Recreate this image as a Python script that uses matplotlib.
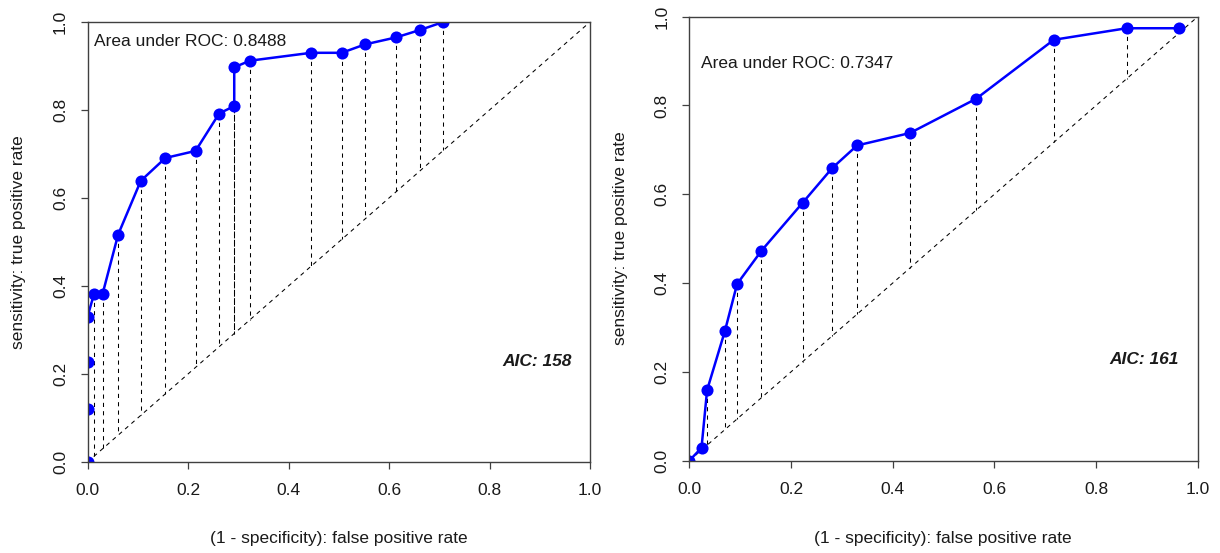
import matplotlib
matplotlib.use("Agg")
import matplotlib.pyplot as plt
from matplotlib.ticker import FormatStrFormatter

plt.rcParams['font.family'] = ['Liberation Sans', 'DejaVu Sans']

# Left panel data
fpr1 = [0, 0, 0, 0, 0.013, 0.030, 0.061, 0.106, 0.155, 0.215, 0.262, 0.292, 0.292,
        0.323, 0.445, 0.506, 0.552, 0.614, 0.662, 0.708]
tpr1 = [0, 0.121, 0.227, 0.330, 0.382, 0.382, 0.517, 0.639, 0.691, 0.707, 0.792, 0.809,
        0.897, 0.912, 0.930, 0.930, 0.949, 0.965, 0.982, 1.0]
auc1 = "Area under ROC: 0.8488"
aic1 = "AIC: 158"

# Right panel data
fpr2 = [0, 0.024, 0.035, 0.070, 0.094, 0.142, 0.223, 0.281, 0.330, 0.434, 0.564,
        0.717, 0.860, 0.964]
tpr2 = [0, 0.029, 0.159, 0.292, 0.398, 0.473, 0.581, 0.659, 0.710, 0.738, 0.815,
        0.948, 0.974, 0.974]
auc2 = "Area under ROC: 0.7347"
aic2 = "AIC: 161"

ticks = [0.0, 0.2, 0.4, 0.6, 0.8, 1.0]
xlabel = "(1 - specificity): false positive rate"
ylabel = "sensitivity: true positive rate"

W, H = 1220, 553
fig = plt.figure(figsize=(W / 100, H / 100), dpi=100)

FS = 12.5
EDGE = '#404040'
TXT = '#1a1a1a'


def make_panel(box, fpr, tpr, auc_txt, auc_pos, aic_txt, aic_pos, xlab_pos, ylab_pos):
    x0, y0, x1, y1 = box  # pixel coords (top-left origin)
    ax = fig.add_axes([x0 / W, 1 - y1 / H, (x1 - x0) / W, (y1 - y0) / H])
    ax.set_xlim(0, 1)
    ax.set_ylim(0, 1)
    ax.plot([0, 1], [0, 1], color='black', lw=0.75, ls=(0, (4, 4)), zorder=2)
    for x, y in zip(fpr, tpr):
        if x > 0:
            ax.plot([x, x], [y, x], color='black', lw=0.75, ls=(0, (4, 4)), zorder=2)
    ax.plot(fpr, tpr, color='#0000ff', lw=1.8, marker='o', ms=8.7,
            markeredgewidth=0, zorder=2.3)
    ax.set_xticks(ticks)
    ax.set_yticks(ticks)
    ax.xaxis.set_major_formatter(FormatStrFormatter('%.1f'))
    ax.yaxis.set_major_formatter(FormatStrFormatter('%.1f'))
    ax.tick_params(direction='out', length=5, width=0.9, color=EDGE,
                   labelsize=FS, labelcolor=TXT)
    ax.tick_params(axis='x', pad=10)
    ax.tick_params(axis='y', pad=9)
    for lab in ax.get_yticklabels():
        lab.set_rotation(90)
        lab.set_va('center')
    for s in ax.spines.values():
        s.set_color(EDGE)
        s.set_linewidth(1.0)
        s.set_zorder(2.5)
    fig.text(auc_pos[0] / W, 1 - auc_pos[1] / H, auc_txt, fontsize=FS,
             ha='left', va='baseline', color=TXT)
    fig.text(aic_pos[0] / W, 1 - aic_pos[1] / H, aic_txt, fontsize=FS,
             fontweight='bold', fontstyle='italic', ha='right', va='center',
             color=TXT)
    fig.text(xlab_pos[0] / W, 1 - xlab_pos[1] / H, xlabel, fontsize=FS,
             ha='center', va='center', color=TXT)
    fig.text(ylab_pos[0] / W, 1 - ylab_pos[1] / H, ylabel, fontsize=FS,
             ha='center', va='center', rotation=90, color=TXT)
    return ax


make_panel((87.5, 22, 590, 462), fpr1, tpr1, auc1, (94, 46), aic1, (572, 361),
           (338.5, 538), (19, 242))
make_panel((689.3, 16.7, 1197.7, 460.7), fpr2, tpr2, auc2, (700.7, 67.7), aic2,
           (1178.7, 360), (943, 538), (621, 238))

fig.savefig("out.png", dpi=100)
